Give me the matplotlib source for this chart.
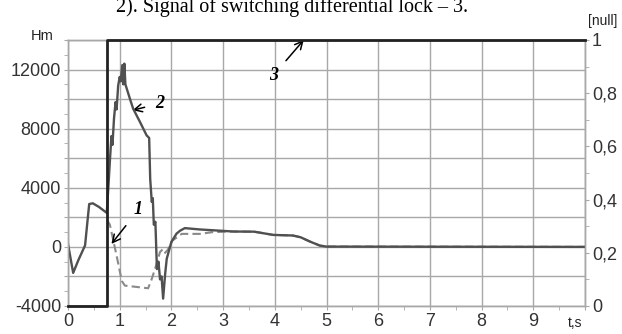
import numpy as np
import matplotlib.pyplot as plt
from matplotlib.ticker import MultipleLocator

# curve 2 (solid)
t2 = [0, 0.1, 0.2, 0.33, 0.41, 0.48, 0.6, 0.75, 0.78, 0.81, 0.84, 0.86, 0.89, 0.92,
      0.94, 0.97, 1.0, 1.02, 1.05, 1.07, 1.09, 1.11, 1.2, 1.26, 1.39, 1.52, 1.57,
      1.59, 1.62, 1.64, 1.66, 1.69, 1.72, 1.75, 1.78, 1.81, 1.84, 1.88, 1.91, 2.0,
      2.1, 2.17, 2.26, 2.55, 3.2, 3.6, 3.97, 4.35, 4.5, 4.68, 4.87, 5.0, 10]
m2 = [200, -1760, -900, 100, 2900, 2950, 2700, 2300, 4000, 5800, 7500, 6900, 8700, 9800,
      9300, 10900, 11500, 11200, 12300, 11000, 12400, 11000, 10000, 9350, 8470, 7550, 7370,
      4600, 3050, 3300, 1500, 1700, -1500, -1000, -2200, -2000, -3500, -1800, -800, 340,
      900, 1100, 1270, 1180, 1040, 1030, 810, 770, 650, 360, 90, 20, 0]

# curve 1 (dashed)
t1 = [0.76, 0.81, 0.94, 1.04, 1.1, 1.3, 1.55, 1.62, 1.7, 1.78, 1.84, 1.88, 1.93, 2.02,
      2.2, 2.55, 2.8, 3.2, 3.6, 3.97, 4.35, 4.5, 4.68, 4.87, 5.0, 10]
m1 = [1800, 1500, -590, -2300, -2620, -2700, -2800, -2170, -1300, -340, -140, -400, -200, 430,
      880, 880, 1000, 1040, 1030, 810, 770, 650, 360, 90, 20, 0]

# curve 3: lock signal
t3 = [0, 0.75, 0.75, 10]
s3 = [0, 0, 1, 1]

xlabels = ['0', '1', '2', '3', '4', '5', '6', '7', '8', '9', '']
ylabels_l = ['-4000', '', '0', '', '4000', '', '8000', '', '12000', '']
ylabels_r = ['0', '0,2', '0,4', '0,6', '0,8', '1']

plt.rcParams['font.family'] = ['Liberation Sans', 'DejaVu Sans']

fig = plt.figure(figsize=(6.22, 3.34), dpi=100)
ax = fig.add_axes([68/622, 1-306/334, (585-68)/622, (306-40)/334])
ax2 = ax.twinx()

gc = '#a8a8a8'
ax.set_xlim(0, 10)
ax.set_ylim(-4000, 14000)
ax2.set_ylim(0, 1)

ax.set_xticks(np.arange(0, 11, 1))
ax.set_xticklabels(xlabels, fontsize=13, color='#333333')
ax.xaxis.set_minor_locator(MultipleLocator(0.5))
ax.set_yticks(np.arange(-4000, 14001, 2000))
ax.set_yticklabels(ylabels_l, fontsize=13, color='#333333')
ax.yaxis.set_minor_locator(MultipleLocator(1000))
ax.grid(True, color=gc, lw=1)
ax.tick_params(which='both', length=3, color=gc, pad=2)

ax2.set_yticks(np.arange(0, 1.01, 0.2))
ax2.set_yticklabels(ylabels_r, fontsize=13, color='#333333')
ax2.yaxis.set_minor_locator(MultipleLocator(0.1))
ax2.tick_params(which='both', length=3, color=gc, pad=2)

for a in (ax, ax2):
    for s in a.spines.values():
        s.set_color(gc)
        s.set_linewidth(1)

ax.plot(t1, m1, color='#8a8a8a', lw=1.5, dashes=(4, 2), zorder=3)
ax.plot(t2, m2, color='#505050', lw=1.7, zorder=4)
ax2.plot(t3, s3, color='#222222', lw=2, clip_on=False, zorder=5)

ann = dict(fontsize=13, fontfamily='Liberation Serif', style='italic', weight='bold')
arr = dict(arrowstyle='->', color='black', lw=1.1, mutation_scale=14)
ax.annotate('1', xy=(0.84, 200), xytext=(1.36, 2500), ha='center', va='center',
            arrowprops=dict(arr, shrinkA=6, shrinkB=0), **ann)
ax.annotate('2', xy=(1.25, 9250), xytext=(1.78, 9700), ha='center', va='center',
            arrowprops=dict(arr, shrinkA=6, shrinkB=0), **ann)
ax.annotate('3', xy=(4.56, 14000), xytext=(3.97, 11600), ha='center', va='center',
            arrowprops=dict(arr, shrinkA=6, shrinkB=0), **ann)

fig.text(42/622, 1-40/334, 'Hm', fontsize=10.5, ha='center', va='baseline', color='#222222')
fig.text(603/622, 1-25/334, '[null]', fontsize=10, ha='center', va='baseline', color='#222222')
fig.text(575/622, 1-327/334, 't,s', fontsize=10, ha='center', va='baseline', color='#222222')
fig.text(116/622, 1-12/334, '2). Signal of switching differential lock – 3.',
         fontsize=14.5, fontfamily='Liberation Serif', ha='left', va='baseline')

fig.savefig('out.png', dpi=100)
